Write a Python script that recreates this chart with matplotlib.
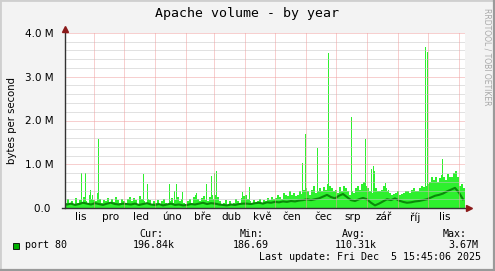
import numpy as np
import matplotlib
matplotlib.use("Agg")
import matplotlib.pyplot as plt
from matplotlib.patches import Rectangle

# ---- data (values in M bytes/s, x in days from left edge of graph) ----
MONTH_EDGES = [29, 59, 90, 121, 149, 180, 210, 241, 271, 302, 333, 363, 394]
MONTH_LABELS = ["lis", "pro", "led", "úno", "bře", "dub", "kvě",
                "čen", "čec", "srp", "zář", "říj", "lis"]
LABEL_DAYS = [16, 46, 76, 107, 138, 166, 197, 227, 258, 288, 319, 350, 380]

# max envelope, one value per 2 days
max_base = [
    0.12, 0.2, 0.1, 0.15, 0.08, 0.22, 0.12, 0.18, 0.1, 0.25, 0.15, 0.12, 0.3, 0.2, 0.18,
    0.15, 0.35, 0.2, 0.12, 0.18, 0.15, 0.22, 0.1, 0.2, 0.14, 0.25, 0.18, 0.12, 0.2, 0.15,
    0.12, 0.2, 0.25, 0.15, 0.22, 0.18, 0.1, 0.28, 0.2, 0.15, 0.12, 0.2, 0.18, 0.1, 0.15,
    0.12, 0.18, 0.1, 0.15, 0.2, 0.12, 0.08, 0.15, 0.22, 0.12, 0.18, 0.25, 0.15, 0.2, 0.12,
    0.1, 0.15, 0.2, 0.12, 0.25, 0.3, 0.2, 0.15, 0.22, 0.28, 0.18, 0.15, 0.25, 0.3, 0.2,
    0.3, 0.25, 0.15, 0.1, 0.12, 0.18, 0.08, 0.15, 0.1, 0.12, 0.2, 0.15, 0.1, 0.22, 0.28,
    0.3, 0.2, 0.15, 0.12, 0.18, 0.1, 0.15, 0.2, 0.12, 0.18, 0.15, 0.22, 0.18, 0.25, 0.2,
    0.22, 0.3, 0.25, 0.2, 0.35, 0.3, 0.28, 0.4, 0.3, 0.35, 0.28, 0.3, 0.38, 0.32, 0.42,
    0.45, 0.38, 0.3, 0.42, 0.5, 0.35, 0.4, 0.45, 0.38, 0.48, 0.42, 0.55, 0.5, 0.45, 0.4,
    0.42, 0.35, 0.48, 0.4, 0.5, 0.45, 0.38, 0.3, 0.4, 0.35, 0.45, 0.5, 0.42, 0.55, 0.6,
    0.5, 0.45, 0.4, 0.35, 0.3, 0.45, 0.4, 0.38, 0.42, 0.5, 0.45, 0.4, 0.35, 0.3, 0.32,
    0.35, 0.38, 0.3, 0.32, 0.35, 0.4, 0.38, 0.35, 0.42, 0.45, 0.4, 0.38, 0.45, 0.5, 0.48,
    0.5, 0.55, 0.6, 0.7, 0.65, 0.72, 0.6, 0.68, 0.75, 0.7, 0.65, 0.78, 0.72, 0.7, 0.8,
    0.85, 0.7, 0.5, 0.55, 0.45,
]

# single-day peaks
spike_days = [16, 20, 25, 27, 33, 78, 82, 104, 109, 111, 117, 131, 141, 146, 149, 151,
              177, 184, 237, 240, 252, 263, 286, 300, 306, 308, 309, 320, 323, 360,
              362, 371, 377]
spike_vals = [0.81, 0.81, 0.41, 0.3, 1.57, 0.78, 0.56, 0.55, 0.4, 0.56, 0.36, 0.34, 0.55,
              0.73, 0.81, 0.84, 0.37, 0.49, 1.03, 1.69, 1.37, 3.55, 2.07, 1.58, 0.9,
              0.95, 0.85, 0.57, 0.42, 3.69, 3.57, 0.7, 1.12]

# average, one value per 4 days
avg = [
    0.08, 0.1, 0.07, 0.09, 0.12, 0.1, 0.08, 0.11, 0.09, 0.07, 0.1, 0.12, 0.09, 0.08, 0.1,
    0.09, 0.08, 0.1, 0.07, 0.09, 0.11, 0.08, 0.07, 0.09, 0.06, 0.08, 0.1, 0.07, 0.08, 0.06,
    0.07, 0.09, 0.08, 0.1, 0.12, 0.09, 0.11, 0.1, 0.08, 0.07, 0.06, 0.08, 0.07, 0.09, 0.1,
    0.1, 0.09, 0.11, 0.12, 0.1, 0.13, 0.12, 0.14, 0.13, 0.15, 0.14, 0.16, 0.15, 0.17, 0.18,
    0.2, 0.18, 0.2, 0.22, 0.26, 0.3, 0.25, 0.22, 0.28, 0.32, 0.25, 0.18, 0.16, 0.2, 0.23,
    0.2, 0.12, 0.06, 0.1, 0.15, 0.2, 0.18, 0.22, 0.17, 0.14, 0.12, 0.13, 0.15, 0.16, 0.18,
    0.2, 0.24, 0.28, 0.3, 0.33, 0.38, 0.42, 0.46, 0.35, 0.2,
]

Y_TICKS = [0, 1, 2, 3, 4]
Y_LABELS = ["0.0 ", "1.0 M", "2.0 M", "3.0 M", "4.0 M"]

TITLE = "Apache volume - by year"
LEGEND_HEAD = ["Cur:", "Min:", "Avg:", "Max:"]
LEGEND_VALS = ["196.84k", "186.69", "110.31k", "3.67M"]
LAST_UPDATE = "Last update: Fri Dec  5 15:45:06 2025"

# ---- figure ----
W, H = 495, 271
fx = lambda px: px / W
fy = lambda py: 1 - py / H
MONO = "DejaVu Sans Mono"
FILL = "#2ef02e"
LINE = "#0a8a0a"
ARROW = "#8b1a1a"

fig = plt.figure(figsize=(W / 100, H / 100), dpi=100, facecolor="#f3f3f3")
# 3d-ish border like rrdtool
fig.add_artist(Rectangle((0, 0), 1, 1, transform=fig.transFigure, fill=False,
                         ec="#cfcfcf", lw=2))
fig.add_artist(plt.Line2D([0, 1], [fy(270), fy(270)], color="#9a9a9a", lw=1.6))
fig.add_artist(plt.Line2D([fx(494), fx(494)], [0, 1], color="#9a9a9a", lw=1.6))

ax = fig.add_axes([fx(65), fy(208), 400 / W, 175 / H])
ax.set_facecolor("white")
ax.set_xlim(0, 400)
ax.set_ylim(0, 4.0)
for s in ax.spines.values():
    s.set_visible(False)

# data
ax.stairs(max_base, np.arange(0, 401, 2), fill=True, color=FILL, lw=0, zorder=2)
ax.bar(spike_days, spike_vals, width=1, align="edge", color=FILL, lw=0, zorder=2)
ax.plot(np.arange(2, 400, 4), avg, color=LINE, lw=1.5, zorder=3)

# grid (rrdtool paints it over the data)
dots = (0, (1, 1))
for v in np.arange(0.2, 4.01, 0.2):
    major = abs(v - round(v)) < 1e-6
    ax.axhline(v, color="#f0a0a0" if major else "#c4c4c4", lw=0.72, ls=dots, zorder=4)
for d in MONTH_EDGES:
    ax.axvline(d, color="#f0a0a0", lw=0.72, ls=dots, zorder=4)

# axes lines + arrows
ax.plot([-0.008, 1.0], [0, 0], transform=ax.transAxes, color="#333333", lw=1,
        clip_on=False, zorder=5)
ax.plot([0, 0], [0, 1.0], transform=ax.transAxes, color="#333333", lw=1,
        clip_on=False, zorder=5)
ax.plot([1.0 + 4 / 400], [0], transform=ax.transAxes, marker=">", ms=5, color=ARROW,
        clip_on=False, zorder=6)
ax.plot([0], [1.0 + 4 / 175], transform=ax.transAxes, marker="^", ms=5, color=ARROW,
        clip_on=False, zorder=6)

ax.set_yticks(Y_TICKS)
ax.set_yticklabels(Y_LABELS, fontsize=7.5)
ax.set_xticks(LABEL_DAYS)
ax.set_xticklabels(MONTH_LABELS, fontsize=7.5)
ax.tick_params(length=0, pad=3)
ax.tick_params(axis="y", pad=8)

fig.text(fx(12), fy(120), "bytes per second", rotation=90, fontsize=7.3,
         ha="center", va="center")
fig.text(fx(247), fy(14), TITLE, family=MONO, fontsize=9.5, ha="center", va="center")
fig.text(fx(487), fy(8), "RRDTOOL / TOBI OETIKER", rotation=270, fontsize=5.5,
         color="#a8a8a8", ha="center", va="top")

# legend
fig.add_artist(Rectangle((fx(13), fy(249)), 6 / W, 6 / H, transform=fig.transFigure,
                         fc="#00b000", ec="#000000", lw=0.6))
fig.text(fx(25), fy(245), "port 80", family=MONO, fontsize=7.2, va="center")
for x, t in zip([139, 240, 342, 443], LEGEND_HEAD):
    fig.text(fx(x), fy(234), t, family=MONO, fontsize=7.2, va="center")
for x, t in zip([133, 233, 335, 448], LEGEND_VALS):
    fig.text(fx(x), fy(245), t, family=MONO, fontsize=7.2, va="center")
fig.text(fx(259), fy(257), LAST_UPDATE, family=MONO, fontsize=7.2, va="center")

fig.savefig("out.png", dpi=100, facecolor=fig.get_facecolor())
